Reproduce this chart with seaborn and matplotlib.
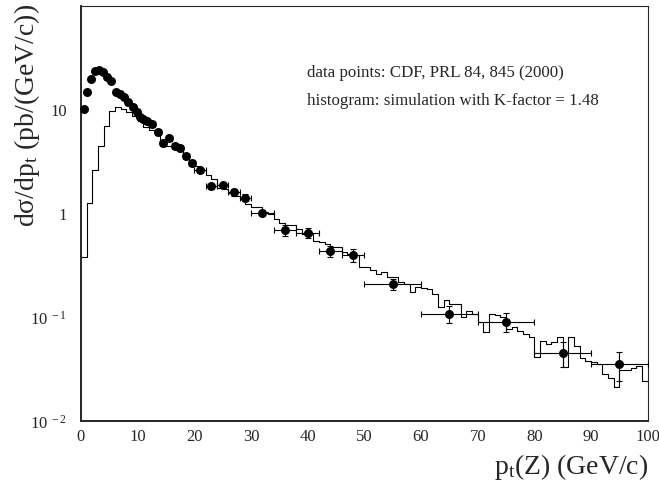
import numpy as np
import pandas as pd
import matplotlib
matplotlib.use("Agg")
import matplotlib.pyplot as plt
import seaborn as sns
from matplotlib.ticker import FixedLocator, LogLocator, MultipleLocator, NullFormatter, FuncFormatter

# CDF data points (pt in GeV/c, dsigma/dpt in pb/(GeV/c))
pt_data = [0.5, 1.1, 1.8, 2.5, 3.2, 3.9, 4.6, 5.3, 6.2, 6.9, 7.6, 8.3, 9.2, 9.9,
           10.4, 10.9, 11.6, 12.5, 13.6, 14.5, 15.5, 16.5, 17.5, 18.5, 19.6,
           21.0, 23.0, 25.0, 27.0, 29.0, 32.0, 36.0, 40.0, 44.0, 48.0,
           55.0, 65.0, 75.0, 85.0, 95.0]
xs_data = [10.0, 14.5, 19.5, 23.0, 23.5, 22.5, 20.0, 18.5, 14.5, 14.0, 13.0, 11.5, 10.5, 9.4,
           8.4, 8.0, 7.6, 7.1, 6.0, 4.7, 5.2, 4.4, 4.2, 3.5, 3.0,
           2.6, 1.8, 1.85, 1.58, 1.40, 1.0, 0.68, 0.64, 0.43, 0.39,
           0.207, 0.107, 0.090, 0.045, 0.035]
xs_err = [0.5, 0.7, 0.8, 0.9, 0.9, 0.9, 0.8, 0.8, 0.7, 0.7, 0.6, 0.6, 0.5, 0.5,
          0.4, 0.4, 0.4, 0.4, 0.3, 0.3, 0.3, 0.25, 0.25, 0.2, 0.2,
          0.12, 0.10, 0.10, 0.12, 0.11, 0.07, 0.08, 0.07, 0.055, 0.055,
          0.025, 0.019, 0.018, 0.012, 0.011]
pt_err = [0.25, 0.25, 0.25, 0.25, 0.25, 0.25, 0.25, 0.25, 0.25, 0.25, 0.25, 0.25, 0.25, 0.25,
          0.25, 0.25, 0.25, 0.5, 0.5, 0.5, 0.5, 0.5, 0.5, 0.5, 0.5,
          1, 1, 1, 1, 1, 2, 2, 2, 2, 2,
          5, 5, 5, 5, 5]

# simulated histogram, 1 GeV bins from 0 to 100
hist_edges = list(range(0, 101))
hist_vals = [0.38, 1.25, 2.55, 4.4, 6.9, 9.6, 10.4, 10.0, 9.4, 8.6,
             7.6, 6.7, 6.2, 5.6, 5.0, 4.4, 4.3, 3.9, 3.5, 3.1,
             2.8, 2.55, 2.3, 2.1, 1.75, 1.7, 1.55, 1.45, 1.35, 1.22,
             1.13, 1.13, 1.02, 0.98, 0.88, 0.80, 0.77, 0.77, 0.70, 0.63,
             0.62, 0.54, 0.52, 0.50, 0.47, 0.47, 0.42, 0.40, 0.39, 0.30,
             0.30, 0.28, 0.26, 0.27, 0.24, 0.24, 0.216, 0.208, 0.173, 0.193,
             0.19, 0.186, 0.166, 0.124, 0.145, 0.133, 0.133, 0.10, 0.115, 0.107,
             0.089, 0.071, 0.107, 0.104, 0.099, 0.077, 0.08, 0.074, 0.069, 0.064,
             0.041, 0.059, 0.055, 0.057, 0.064, 0.033, 0.064, 0.053, 0.040, 0.038,
             0.037, 0.035, 0.028, 0.026, 0.021, 0.031, 0.031, 0.032, 0.034, 0.024]
hist_centers = [e + 0.5 for e in hist_edges[:-1]]

x_ticks = [0, 10, 20, 30, 40, 50, 60, 70, 80, 90, 100]

sns.set_style("white")
plt.rcParams['font.family'] = ['Liberation Serif', 'DejaVu Serif']
plt.rcParams['mathtext.fontset'] = 'custom'
plt.rcParams['mathtext.rm'] = 'Liberation Serif'
plt.rcParams['mathtext.it'] = 'Liberation Serif:italic'

fig = plt.figure(figsize=(6.59, 4.81), dpi=100)
ax = fig.add_axes([0.1229, 0.1227, 0.8600, 0.8627])

hist_df = pd.DataFrame({'pt': hist_centers, 'w': hist_vals})
sns.histplot(data=hist_df, x='pt', weights='w', bins=hist_edges, element='step',
             fill=False, color='black', linewidth=0.8, ax=ax)

ax.errorbar(pt_data, xs_data, xerr=pt_err, yerr=xs_err, fmt='none', ecolor='black',
            elinewidth=0.8, capsize=2.5, capthick=0.8, zorder=3)
data_df = pd.DataFrame({'pt': pt_data, 'xs': xs_data})
sns.scatterplot(data=data_df, x='pt', y='xs', color='black', s=42, linewidth=0,
                zorder=4, ax=ax, clip_on=False)

ax.set_yscale('log')
ax.set_xlim(0, 100)
ax.set_ylim(0.01, 97)

ax.xaxis.set_major_locator(FixedLocator(x_ticks))
ax.xaxis.set_minor_locator(MultipleLocator(2))
ax.yaxis.set_major_locator(LogLocator(base=10, numticks=10))
ax.yaxis.set_minor_locator(LogLocator(base=10, subs=np.arange(2, 10), numticks=20))
ax.yaxis.set_minor_formatter(NullFormatter())

def ylab(v, pos):
    if abs(v - 10) < 1e-6:
        return '10'
    if abs(v - 1) < 1e-6:
        return '1'
    e = int(round(np.log10(v)))
    if e < 0:
        return '10$^{\\ %d}$' % e
    return ''
ax.yaxis.set_major_formatter(FuncFormatter(ylab))

ax.tick_params(axis='both', which='both', direction='in', top=False, right=False,
               labelsize=12, width=0.9)
ax.tick_params(axis='x', which='major', length=8, pad=5)
ax.tick_params(axis='x', which='minor', length=4)
ax.tick_params(axis='y', which='major', length=9, pad=10)
ax.tick_params(axis='y', which='minor', length=4.5)

for s in ['left', 'bottom']:
    ax.spines[s].set_linewidth(1.4)
for s in ['top', 'right']:
    ax.spines[s].set_linewidth(0.8)

ax.set_xlabel('p$_\\mathrm{t}$(Z) (GeV/c)', fontsize=20, loc='right')
ax.xaxis.set_label_coords(1.0, -0.072)
ax.set_ylabel('d\u03c3/dp$_\\mathrm{t}$ (pb/(GeV/c))', fontsize=20, loc='top')
ax.yaxis.set_label_coords(-0.069, 1.008)

ax.text(0.399, 0.841, 'data points: CDF, PRL 84, 845 (2000)', transform=ax.transAxes,
        fontsize=12.2, va='center', ha='left')
ax.text(0.399, 0.773, 'histogram: simulation with K-factor = 1.48', transform=ax.transAxes,
        fontsize=12.2, va='center', ha='left')

fig.savefig('out.png', dpi=100)
